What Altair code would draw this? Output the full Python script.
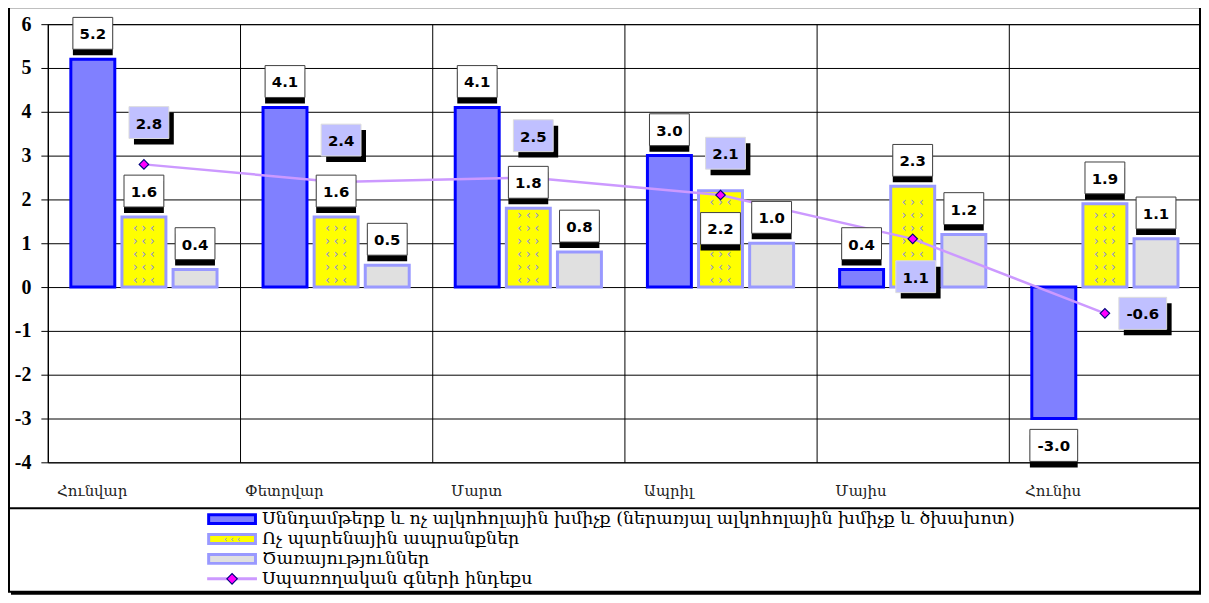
import altair as alt
import pandas as pd

# ---------------- data ----------------
months = ["Հունվար", "Փետրվար", "Մարտ", "Ապրիլ", "Մայիս", "Հունիս"]
series_names = [
    "Սննդամթերք և ոչ ալկոհոլային խմիչք (ներառյալ ալկոհոլային խմիչք և ծխախոտ)",
    "Ոչ պարենային ապրանքներ",
    "Ծառայություններ",
]
cpi_name = "Սպառողական գների ինդեքս"
food = [5.2, 4.1, 4.1, 3.0, 0.4, -3.0]
nonfood = [1.6, 1.6, 1.8, 2.2, 2.3, 1.9]
services = [0.4, 0.5, 0.8, 1.0, 1.2, 1.1]
cpi = [2.8, 2.4, 2.5, 2.1, 1.1, -0.6]
y_ticks = list(range(-4, 7))

# ---------------- styles ----------------
fills = ["#8080ff", "#ffff00", "#e0e0e0"]
strokes = ["#0000ff", "#9999ff", "#9999ff"]
W, H = 1158, 440
PX = H / 10.0          # pixels per data unit
PAT_STEP = 0.3         # vertical spacing of the hatch glyphs inside the yellow bars (data units)

# label placement derived from the values
line_rows = []
line_place = []
for i, m in enumerate(months):
    v = cpi[i]
    if v < 0:
        p = "right"
    elif nonfood[i] - v > 0.5:
        p = "below"
    else:
        p = "above"
    line_place.append(p)
    line_rows.append({"month": m, "v": v, "text": f"{v:.1f}", "place": p})
line_df = pd.DataFrame(line_rows)

bar_rows = []
bar_place = {}
for s, vals in enumerate([food, nonfood, services]):
    for i, m in enumerate(months):
        v = vals[i]
        if v < 0:
            p = "below"
        elif s == 1 and line_place[i] == "above" and abs(cpi[i] - v) < 0.3:
            p = "inside"
        else:
            p = "above"
        bar_place[(s, i)] = p
        bar_rows.append({"month": m, "s": s, "v": v, "text": f"{v:.1f}", "place": p})
bar_df = pd.DataFrame(bar_rows)

# label offsets (pixels)
BAR_DY = {"above": -26, "below": 27, "inside": 38}
LINE_OFF = {"above": (5, -42), "below": (3, 38), "right": (38, 0)}

# decorative hatch glyphs for the yellow bars (skipping spots hidden under label boxes)
pat_rows = []
for i, m in enumerate(months):
    hidden = []
    if bar_place[(1, i)] == "inside":
        hidden.append(nonfood[i] - BAR_DY["inside"] / PX)
    if line_place[i] == "below":
        hidden.append(cpi[i] - LINE_OFF["below"][1] / PX)
    k = 0
    yv = PAT_STEP / 2
    while yv < nonfood[i] - 0.12:
        if all(abs(yv - c) > 0.48 for c in hidden):
            pat_rows.append({"month": m, "s": 1, "v": round(yv, 3),
                             "g": "‹   ›   ‹" if k % 2 == 0 else "›   ‹   ›"})
        yv += PAT_STEP
        k += 1
pat_df = pd.DataFrame(pat_rows)

leg_df = pd.DataFrame({"name": series_names + [cpi_name], "s": [0, 1, 2, 3]})
all_names = series_names + [cpi_name]

# ---------------- encodings ----------------
x_enc = alt.X(
    "month:N",
    sort=months,
    scale=alt.Scale(domain=months, paddingInner=0, paddingOuter=0),
    axis=alt.Axis(
        title=None, bandPosition=0, labelOffset=-52, ticks=False, domain=False,
        grid=True, gridColor="black", gridWidth=1, gridOpacity=1,
        labelFont="DejaVu Serif", labelFontSize=15, labelColor="#222222",
        labelPadding=21, labelAngle=0,
    ),
)
xoff_enc = alt.XOffset("s:N", scale=alt.Scale(domain=[0, 1, 2], paddingInner=0.14, paddingOuter=0.45))
y_enc = alt.Y(
    "v:Q",
    scale=alt.Scale(domain=[-4, 6], nice=False),
    axis=alt.Axis(
        title=None, values=y_ticks, labelExpr="datum.value + ''",
        labelFont="Liberation Serif", labelFontSize=20, labelFontWeight="bold",
        labelColor="black", tickColor="black", tickSize=7, tickWidth=1,
        domainColor="black", domainWidth=1, gridColor="black", gridWidth=1,
        gridOpacity=1, labelPadding=10,
    ),
)
fill_enc = alt.Fill("s:N", scale=alt.Scale(domain=[0, 1, 2], range=fills), legend=None)
stroke_enc = alt.Stroke("s:N", scale=alt.Scale(domain=[0, 1, 2], range=strokes), legend=None)

bars = alt.Chart(bar_df).mark_bar(strokeWidth=3, opacity=1).encode(
    x=x_enc, xOffset=xoff_enc, y=y_enc, fill=fill_enc, stroke=stroke_enc
)
hatch = alt.Chart(pat_df).mark_text(
    fontSize=12, font="DejaVu Sans", color="#8c8cdc", baseline="middle"
).encode(x=x_enc, xOffset=xoff_enc, y=y_enc, text="g:N")
line = alt.Chart(line_df).mark_line(color="#cc99ff", strokeWidth=2.5).encode(x=x_enc, y=y_enc)
points = alt.Chart(line_df).mark_point(
    shape="diamond", filled=True, fill="#ff00ff", stroke="#000080", strokeWidth=1.2,
    size=90, opacity=1
).encode(x=x_enc, y=y_enc)

BOX = "M-1,-0.8L1,-0.8L1,0.8L-1,0.8Z"        # 40 x 32 at size 1600
BOXW = "M-1,-0.67L1,-0.67L1,0.67L-1,0.67Z"   # 48 x 32 at size 2304


def label_layers(df, place, enc, dx, dy, fill, stroke):
    base = alt.Chart(df).transform_filter(alt.datum.place == place).encode(**enc)
    shape_enc = alt.when(alt.datum.v < 0).then(alt.value(BOXW)).otherwise(alt.value(BOX))
    size_enc = alt.when(alt.datum.v < 0).then(alt.value(2304)).otherwise(alt.value(1600))
    shadow = base.mark_point(
        filled=True, fill="black", strokeWidth=0, opacity=1, xOffset=dx + 5, yOffset=dy + 6
    ).encode(shape=shape_enc, size=size_enc)
    box = base.mark_point(
        filled=True, fill=fill, stroke=stroke, strokeWidth=1, opacity=1, xOffset=dx, yOffset=dy
    ).encode(shape=shape_enc, size=size_enc)
    txt = base.mark_text(
        font="DejaVu Sans", fontWeight="bold", fontSize=15, color="black",
        baseline="middle", align="center", dx=dx, dy=dy + 1
    ).encode(text="text:N")
    return [shadow, box, txt]


bar_enc = {"x": x_enc, "xOffset": xoff_enc, "y": y_enc}
line_enc = {"x": x_enc, "y": y_enc}
lab = []
for p, dy in BAR_DY.items():
    lab += label_layers(bar_df, p, bar_enc, 0, dy, "white", "#404040")
for p, (dx, dy) in LINE_OFF.items():
    lab += label_layers(line_df, p, line_enc, dx, dy, "#c0c0ff", "#dddddd")

main = alt.layer(bars, hatch, line, points, *lab)

# ---------------- legend + frame ----------------
ly = alt.Y(
    "name:N", sort=all_names,
    scale=alt.Scale(type="point", domain=all_names, range=[497, 557], padding=0),
    axis=None,
)
LEGRECT = "M-1,-0.19L1,-0.19L1,0.19L-1,0.19Z"
leg_sym = alt.Chart(leg_df).transform_filter(alt.datum.s < 3).mark_point(
    shape=LEGRECT, size=2209, filled=True, strokeWidth=3, opacity=1
).encode(x=alt.value(185), y=ly, fill=fill_enc, stroke=stroke_enc)
leg_hatch = alt.Chart(leg_df).transform_filter(alt.datum.s == 1).mark_text(
    fontSize=9, font="DejaVu Sans", color="#8c8cdc", baseline="middle", text="‹      ‹      ‹"
).encode(x=alt.value(185), y=ly)
leg_line = alt.Chart(leg_df).transform_filter(alt.datum.s == 3).mark_rule(
    color="#cc99ff", strokeWidth=3
).encode(x=alt.value(160), x2=alt.value(210), y=ly)
leg_pt = alt.Chart(leg_df).transform_filter(alt.datum.s == 3).mark_point(
    shape="diamond", filled=True, fill="#ff00ff", stroke="#000080", strokeWidth=1.2,
    size=110, opacity=1
).encode(x=alt.value(185), y=ly)
leg_txt = alt.Chart(leg_df).mark_text(
    align="left", baseline="middle", font="DejaVu Serif", fontSize=17.5, color="black"
).encode(x=alt.value(215), y=ly, text="name:N")

one = pd.DataFrame({"a": [0]})
frame = alt.Chart(one).mark_rect(fillOpacity=0, stroke="black", strokeWidth=2).encode(
    x=alt.value(-39), x2=alt.value(1157), y=alt.value(-17), y2=alt.value(570)
)
sep = alt.Chart(one).mark_rule(color="black", strokeWidth=2).encode(
    x=alt.value(-39), x2=alt.value(1157), y=alt.value(486)
)
shadow_r = alt.Chart(one).mark_rule(color="black", strokeWidth=3).encode(
    x=alt.value(1159), y=alt.value(488), y2=alt.value(572)
)
shadow_b = alt.Chart(one).mark_rule(color="black", strokeWidth=3).encode(
    x=alt.value(-37), x2=alt.value(1160), y=alt.value(571.5)
)

legend = alt.layer(frame, sep, shadow_r, shadow_b, leg_sym, leg_hatch, leg_line, leg_pt, leg_txt)

chart = (
    alt.layer(main, legend)
    .resolve_scale(y="independent")
    .properties(
        width=W, height=H,
        padding={"left": 40, "top": 15, "right": 0, "bottom": 133},
        autosize=alt.AutoSizeParams(type="none"),
        background="white",
    )
    .configure_view(stroke="black", strokeWidth=1)
)

chart.save("out.html", embed_options={"renderer": "svg", "actions": False})
